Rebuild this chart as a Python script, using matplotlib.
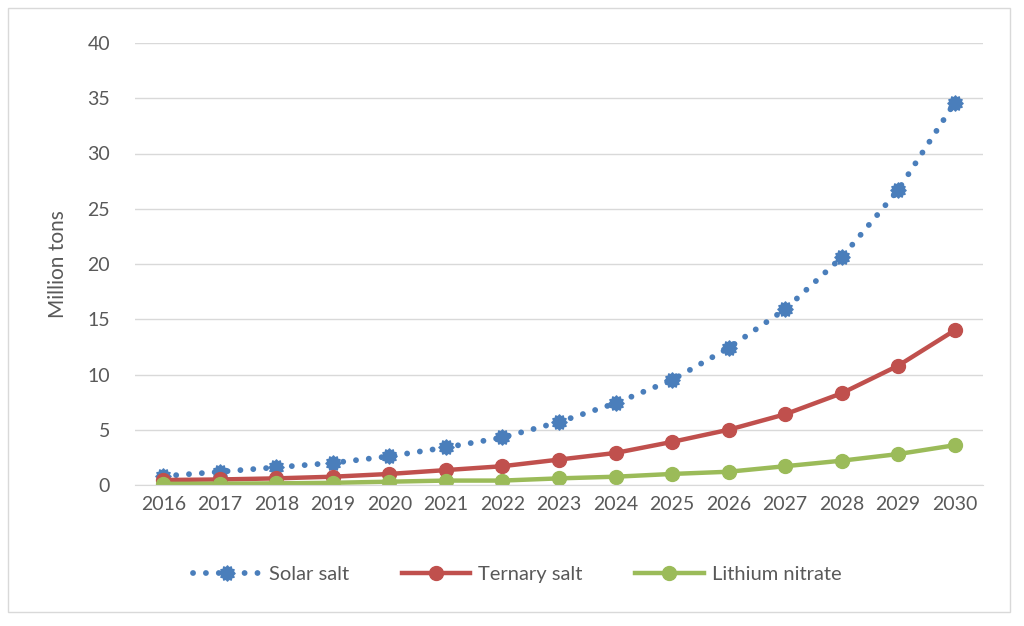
import numpy as np
import matplotlib.pyplot as plt
from matplotlib.path import Path

years = [str(y) for y in range(2016, 2031)]
solar_salt = [0.8, 1.2, 1.6, 2.0, 2.6, 3.4, 4.3, 5.7, 7.4, 9.5, 12.4, 15.9, 20.6, 26.7, 34.6]
ternary_salt = [0.45, 0.5, 0.6, 0.75, 1.0, 1.35, 1.7, 2.3, 2.9, 3.9, 5.0, 6.4, 8.3, 10.8, 14.0]
lithium_nitrate = [0.1, 0.12, 0.15, 0.2, 0.3, 0.4, 0.4, 0.6, 0.75, 1.0, 1.2, 1.7, 2.2, 2.8, 3.6]

plt.rcParams['font.family'] = ['Lato', 'DejaVu Sans']
text_color = "#595959"

# gear-like marker (Excel "star" style blob)
ang = np.linspace(0, 2 * np.pi, 24, endpoint=False)
rad = np.where(np.arange(24) % 2 == 0, 1.0, 0.78)
verts = np.column_stack([rad * np.cos(ang), rad * np.sin(ang)])
verts = np.vstack([verts, verts[:1]])
gear = Path(verts, [Path.MOVETO] + [Path.LINETO] * 23 + [Path.CLOSEPOLY])

fig = plt.figure(figsize=(10.24, 6.26), dpi=100)
ax = fig.add_axes([135 / 1024, 1 - 485 / 626, (983 - 135) / 1024, (485 - 43) / 626])

x = np.arange(len(years))
ax.plot(x, solar_salt, color="#4A7EBB", linewidth=4.2, linestyle=(0, (0.01, 2.2)),
        dash_capstyle="round", marker=gear, markersize=11, label="Solar salt")
ax.plot(x, ternary_salt, color="#C0504D", linewidth=3.2, marker="o", markersize=10,
        label="Ternary salt")
ax.plot(x, lithium_nitrate, color="#9BBB59", linewidth=3.2, marker="o", markersize=10,
        label="Lithium nitrate")

ax.set_xlim(-0.5, len(years) - 0.5)
ax.set_ylim(0, 40)
ax.set_yticks(range(0, 41, 5))
ax.set_xticks(x)
ax.set_xticklabels(years)
ax.grid(axis="y", color="#D9D9D9", linewidth=1)
ax.set_axisbelow(True)
for side in ["top", "right", "left"]:
    ax.spines[side].set_visible(False)
ax.spines["bottom"].set_color("#D9D9D9")
ax.tick_params(length=0, labelsize=14, labelcolor=text_color)
ax.tick_params(axis="y", pad=18)
ax.tick_params(axis="x", pad=8)
ax.set_ylabel("Million tons", fontsize=15, color=text_color, labelpad=14)

fig.legend(loc="center", bbox_to_anchor=(0.505, 1 - 574 / 626), ncol=3, frameon=False,
           fontsize=14.5, labelcolor=text_color, handlelength=3.4, handletextpad=0.4,
           columnspacing=2.6)

border = plt.Rectangle((8 / 1024, 1 - 612 / 626), 1002 / 1024, 604 / 626,
                       transform=fig.transFigure, fill=False, edgecolor="#D9D9D9", linewidth=1)
fig.patches.append(border)

fig.savefig("out.png", dpi=100)
